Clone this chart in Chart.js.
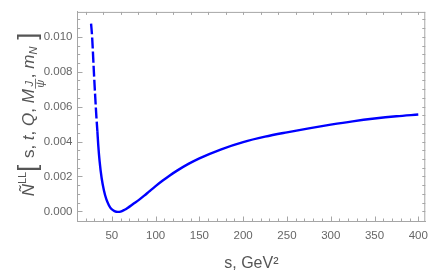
<!DOCTYPE html>
<html>
<head>
<meta charset="utf-8">
<script src="https://cdn.jsdelivr.net/npm/chart.js@4/dist/chart.umd.min.js"></script>
<style>
  html, body { margin: 0; padding: 0; background: #fff; }
  #wrap { width: 436px; height: 273px; position: relative; }
</style>
</head>
<body>
<div id="wrap"><canvas id="c" width="436" height="273"></canvas></div>
<script>
// ---- data ----
const sValues = [26.3, 27.5, 29.5, 31, 32.4, 33.5, 34.5, 36, 38.4, 41, 43.7, 46.5, 49.3, 53, 56.8, 60, 64, 68, 75, 81, 87, 92.4, 100, 109.3, 115, 125, 137.5, 150, 175, 200, 225, 250, 275, 300, 325, 350, 375, 400];
const nValues = [0.01076, 0.0100, 0.0080, 0.0066, 0.0054, 0.0046, 0.0038, 0.0029, 0.0019, 0.0012, 0.0007, 0.00037, 0.00015, 0.00002, -0.00003, -0.00001, 0.00008, 0.0002, 0.00045, 0.00066, 0.0009, 0.00113, 0.00145, 0.00181, 0.00202, 0.00235, 0.00272, 0.00304, 0.00356, 0.00397, 0.00428, 0.00453, 0.00476, 0.00497, 0.00516, 0.00532, 0.00545, 0.00555];
const xTickLabels = [50, 100, 150, 200, 250, 300, 350, 400];
const yTickLabels = [0.000, 0.002, 0.004, 0.006, 0.008, 0.010];
const xTitle = 's, GeV\u00B2';

const FRAME = '#a6a6a6';
const TICKTXT = '#666666';
const TITLETXT = '#555555';

const points = sValues.map((s, i) => ({ x: s, y: nValues[i] }));

// Inward frame ticks (Mathematica style) drawn through the scales
const frameTicks = {
  id: 'frameTicks',
  afterDraw(chart) {
    const { ctx, chartArea: a, scales } = chart;
    const xs = scales.x, ys = scales.y;
    ctx.save();
    ctx.strokeStyle = FRAME;
    ctx.lineWidth = 1;
    ctx.beginPath();
    ctx.moveTo(a.left, a.top + 0.5); ctx.lineTo(a.right, a.top + 0.5);
    ctx.moveTo(a.right - 0.5, a.top); ctx.lineTo(a.right - 0.5, a.bottom);
    ctx.stroke();
    ctx.beginPath();
    for (let v = 20; v <= 400; v += 10) {
      const px = Math.round(xs.getPixelForValue(v)) + 0.5;
      const len = (v % 50 === 0) ? 4.5 : 2.5;
      ctx.moveTo(px, a.bottom); ctx.lineTo(px, a.bottom - len);
    }
    for (let v = 20; v <= 400; v += 20) {
      const px = Math.round(xs.getPixelForValue(v)) + 0.5;
      ctx.moveTo(px, a.top); ctx.lineTo(px, a.top + 3);
    }
    for (let k = 0; k <= 22; k++) {
      const v = k * 0.0005;
      const py = Math.round(ys.getPixelForValue(v)) + 0.5;
      if (py < a.top || py > a.bottom) continue;
      const len = (k % 4 === 0) ? 5 : 2.7;
      ctx.moveTo(a.left, py); ctx.lineTo(a.left + len, py);
      ctx.moveTo(a.right, py); ctx.lineTo(a.right - 3, py);
    }
    ctx.stroke();
    ctx.restore();
  }
};

// Rotated y-axis title with sub/superscripts
const yTitle = {
  id: 'yTitle',
  afterDraw(chart) {
    const { ctx } = chart;
    const fam = '"Liberation Sans", Arial, sans-serif';
    const base = '17px ' + fam;
    const ital = 'italic 17px ' + fam;
    const small = '11px ' + fam;
    const smallI = 'italic 11px ' + fam;
    const big = '25px ' + fam;
    const parts = [
      { t: 'N\u0303', f: ital, dy: 0 },
      { t: 'LL', f: small, dy: -8 },
      { t: '[', f: big, dy: 2, pad: 2 },
      { t: ' s, ', f: base, dy: 0 },
      { t: 't', f: ital, dy: 0 },
      { t: ', ', f: base, dy: 0 },
      { t: 'Q', f: ital, dy: 0 },
      { t: ', ', f: base, dy: 0 },
      { t: 'M', f: ital, dy: 0 },
      { frac: true },
      { t: ', ', f: base, dy: 0 },
      { t: 'm', f: ital, dy: 0 },
      { t: 'N', f: smallI, dy: 3 },
      { t: ' ]', f: big, dy: 2 }
    ];
    ctx.save();
    let total = 0;
    const widths = parts.map(p => {
      let w;
      if (p.frac) { ctx.font = smallI; w = Math.max(ctx.measureText('J').width, ctx.measureText('\u03C8').width) + 3; }
      else { ctx.font = p.f; w = ctx.measureText(p.t).width + (p.pad || 0); }
      total += w; return w;
    });
    const cx = 34, cy = 114.5;
    ctx.translate(cx, cy);
    ctx.rotate(-Math.PI / 2);
    ctx.fillStyle = TITLETXT;
    ctx.strokeStyle = TITLETXT;
    ctx.textBaseline = 'alphabetic';
    ctx.textAlign = 'left';
    let x = -total / 2;
    parts.forEach((p, i) => {
      if (p.frac) {
        ctx.font = smallI;
        ctx.textAlign = 'center';
        const mx = x + widths[i] / 2;
        ctx.fillText('J', mx, -1);
        ctx.lineWidth = 0.8;
        ctx.beginPath(); ctx.moveTo(x + 0.5, 1.5); ctx.lineTo(x + widths[i] - 0.5, 1.5); ctx.stroke();
        ctx.fillText('\u03C8', mx, 10);
        ctx.textAlign = 'left';
      } else {
        ctx.font = p.f;
        ctx.fillText(p.t, x, p.dy);
      }
      x += widths[i];
    });
    ctx.restore();
  }
};

new Chart(document.getElementById('c'), {
  type: 'line',
  data: {
    datasets: [{
      data: points,
      borderColor: '#0000ff',
      borderWidth: 2.4,
      pointRadius: 0,
      fill: false,
      cubicInterpolationMode: 'monotone',
      segment: {
        borderDash: ctx => (ctx.p0.parsed.x < 33 ? [11, 3] : undefined)
      }
    }]
  },
  options: {
    responsive: false,
    animation: false,
    devicePixelRatio: 1,
    layout: { padding: { top: 4, right: 6, left: 0, bottom: 0 } },
    plugins: { legend: { display: false }, tooltip: { enabled: false } },
    scales: {
      x: {
        type: 'linear',
        min: 10.8, max: 408,
        grid: { display: false, drawTicks: false },
        border: { display: true, color: FRAME, width: 1 },
        afterBuildTicks: s => { s.ticks = xTickLabels.map(v => ({ value: v })); },
        afterFit: s => { s.height = 52; },
        ticks: {
          color: TICKTXT,
          padding: 8,
          maxRotation: 0,
          font: { family: '"Liberation Sans", Arial, sans-serif', size: 11.5 },
          callback: v => String(v)
        },
        title: {
          display: true,
          text: xTitle,
          color: TITLETXT,
          padding: { top: 7, bottom: 0 },
          font: { family: '"Liberation Sans", Arial, sans-serif', size: 16 }
        }
      },
      y: {
        type: 'linear',
        min: -0.00055, max: 0.01143,
        grid: { display: false, drawTicks: false },
        border: { display: true, color: FRAME, width: 1 },
        afterBuildTicks: s => { s.ticks = yTickLabels.map(v => ({ value: v })); },
        afterFit: s => { s.width = 77.5; },
        ticks: {
          color: TICKTXT,
          padding: 5,
          font: { family: '"Liberation Sans", Arial, sans-serif', size: 11.5 },
          callback: v => Number(v).toFixed(3)
        }
      }
    }
  },
  plugins: [frameTicks, yTitle]
});
</script>
</body>
</html>
